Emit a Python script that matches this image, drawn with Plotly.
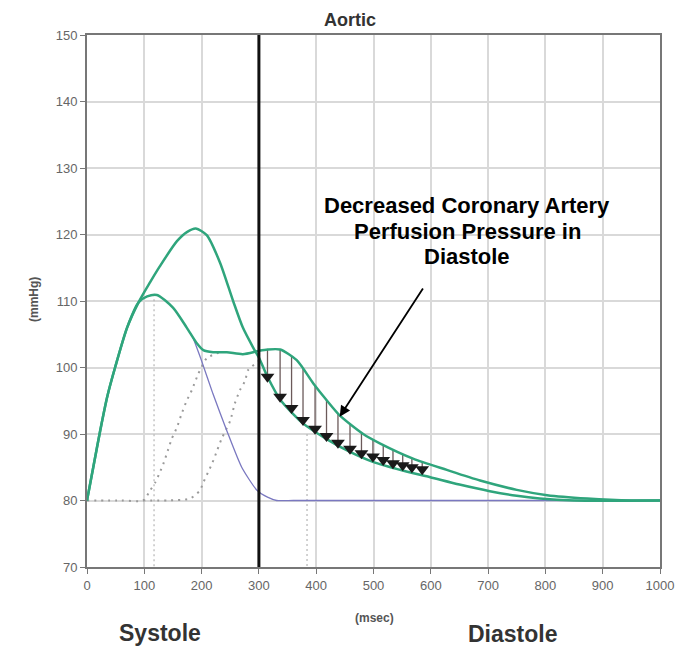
import plotly.graph_objects as go

# upper systolic peak, then the depressed diastolic curve
curve_a_x = [0, 12, 23, 35, 49, 70, 90, 110, 127, 157, 175, 190, 209, 232, 255, 272, 290, 300,
             315, 337, 377, 419, 459, 499, 551, 599, 650, 703, 750, 790, 850, 1000]
curve_a_y = [80, 85.5, 90.5, 95.5, 100, 106, 109.8, 112.8, 115.2, 119, 120.4, 120.9, 119.9, 115.8, 110, 106, 103, 101.5,
             98.6, 95.2, 91.6, 89.2, 87.3, 85.8, 84.5, 83.5, 82.4, 81.4, 80.7, 80.3, 80, 80]

# normal curve with lower systolic peak and diastolic hump
curve_b_x = [0, 12, 23, 35, 49, 70, 90, 105, 122, 150, 174, 192, 203, 220, 244, 272, 300,
             315, 337, 366, 395, 419, 441, 482, 511, 569, 628, 686, 750, 803, 873, 950, 1000]
curve_b_y = [80, 85.5, 90.5, 95.5, 100, 106, 109.8, 110.7, 110.9, 109, 106, 103.6, 102.6, 102.3, 102.3, 102, 102.5,
             102.7, 102.7, 101.1, 97.6, 95, 92.8, 90, 88.6, 86.3, 84.6, 83.0, 81.6, 80.8, 80.3, 80, 80]

# forward wave (thin blue)
forward_x = [185, 200, 220, 244, 270, 297, 315, 331, 360, 500, 700, 1000]
forward_y = [104.5, 101, 96, 90.5, 85, 81.5, 80.5, 80, 80, 80, 80, 80]

# reflected waves (dotted)
reflect1_x = [0, 60, 98, 110, 119, 127, 134, 141, 148, 157, 165, 174, 183, 194, 209, 232]
reflect1_y = [80, 80, 80, 81.5, 82.7, 84.2, 85.7, 87.5, 89.3, 91, 93, 95, 96.6, 99, 101.4, 102.3]
reflect2_x = [98, 140, 180, 197, 203, 211, 219, 227, 235, 250, 258, 267, 276, 281, 300]
reflect2_y = [80, 80, 80.3, 81.5, 82.7, 84.2, 85.7, 87.5, 89.3, 92, 94.6, 96.6, 98, 99.6, 101]

# pressure drop markers
drop_x = [315, 337, 357, 377, 398, 418, 438, 459, 479, 499, 517, 534, 551, 567, 585]
drop_top = [102.7, 102.7, 101.7, 99.8, 97.3, 95.1, 93.1, 91.4, 90.2, 89.2, 88.4, 87.7, 87.0, 86.4, 85.8]
drop_bottom = [98.6, 95.6, 93.9, 92.1, 90.8, 89.7, 88.7, 87.8, 87.1, 86.6, 86.1, 85.6, 85.3, 85.0, 84.7]

note_lines = ["Decreased Coronary Artery", "Perfusion Pressure in", "Diastole"]

GREEN = "#2fa57c"
W, H = 687, 640          # page adds 8px body margin
L, R, T, B = 79, 35, 27, 81
PLOT_W, PLOT_H = W - L - R, H - T - B


def page_to_paper(px, py):
    # reference pixel position -> paper coords
    return (px - 8 - L) / PLOT_W, (H - B - (py - 8)) / PLOT_H


fig = go.Figure()

# white box behind the note text
fig.add_shape(type="rect", x0=372, x1=953, y0=114, y1=126.5, xref="x", yref="y",
              fillcolor="white", line_width=0, layer="below")

# vertical dotted guides
fig.add_trace(go.Scatter(x=[117, 117, None, 384, 384], y=[111, 70, None, 90, 70], mode="lines",
                         line=dict(color="#b5b5b5", width=1.2, dash="2px,3px"), hoverinfo="skip"))
fig.add_trace(go.Scatter(x=reflect1_x, y=reflect1_y, mode="lines", line_shape="spline",
                         line=dict(color="#9a9a9a", width=2, dash="2px,5px", smoothing=0.6)))
fig.add_trace(go.Scatter(x=reflect2_x, y=reflect2_y, mode="lines", line_shape="spline",
                         line=dict(color="#9a9a9a", width=2, dash="2px,5px", smoothing=0.6)))
fig.add_trace(go.Scatter(x=forward_x, y=forward_y, mode="lines", line_shape="spline",
                         line=dict(color="#7a78c0", width=1.3, smoothing=0.6)))

stem_x, stem_y = [], []
for x, top, bottom in zip(drop_x, drop_top, drop_bottom):
    stem_x += [x, x, None]
    stem_y += [top, bottom, None]
fig.add_trace(go.Scatter(x=stem_x, y=stem_y, mode="lines", line=dict(color="#6b5a5a", width=1.3)))

fig.add_trace(go.Scatter(x=curve_a_x, y=curve_a_y, mode="lines", line_shape="spline",
                         line=dict(color=GREEN, width=2.5, smoothing=0.7)))
fig.add_trace(go.Scatter(x=curve_b_x, y=curve_b_y, mode="lines", line_shape="spline",
                         line=dict(color=GREEN, width=2.5, smoothing=0.7)))
fig.add_trace(go.Scatter(x=drop_x, y=drop_bottom, mode="markers",
                         marker=dict(symbol="triangle-down", size=12, color="#1a1a1a")))

fig.add_vline(x=300, line=dict(color="#111111", width=3))

for line, py in zip(note_lines, [205, 231, 256]):
    nx, ny = page_to_paper(467, py)
    fig.add_annotation(x=nx, y=ny, xref="paper", yref="paper", text=line, showarrow=False,
                       xanchor="center", yanchor="middle",
                       font=dict(family="Liberation Sans", size=22, color="#000000", weight="bold"))

fig.add_annotation(x=441, y=92.6, ax=588, ay=112.1, xref="x", yref="y", axref="x", ayref="y",
                   showarrow=True, arrowhead=2, arrowsize=1.2, arrowwidth=1.8, arrowcolor="#000000",
                   text="")

label_font = dict(family="Liberation Sans", color="#333333", weight="bold")
labels = [
    ("Systole", 160, 633, 23, "#333333", 0),
    ("Diastole", 512, 634, 23, "#333333", 0),
    ("(msec)", 374, 618, 12, "#555555", 0),
    ("(mmHg)", 34, 300, 12, "#555555", -90),
]
for text, px, py, size, color, angle in labels:
    nx, ny = page_to_paper(px, py)
    fig.add_annotation(x=nx, y=ny, xref="paper", yref="paper", text=text, showarrow=False,
                       xanchor="center", yanchor="middle", textangle=angle,
                       font=dict(label_font, size=size, color=color))

# title pinned to the top edge of the figure so it is not clipped
tx, ty = page_to_paper(350, 8)
fig.add_annotation(x=tx, y=ty, xref="paper", yref="paper", text="Aortic", showarrow=False,
                   xanchor="center", yanchor="top", font=dict(label_font, size=18))

axis_common = dict(showline=True, linecolor="#777777", linewidth=2, mirror=True,
                   showgrid=True, gridcolor="#d9d9d9", gridwidth=1.5, zeroline=False,
                   ticks="outside", ticklen=5, tickcolor="#777777",
                   tickfont=dict(family="Liberation Sans", size=13, color="#666666"))
fig.update_xaxes(range=[0, 1000], dtick=100, **axis_common)
fig.update_yaxes(range=[70, 150], dtick=10, **axis_common)

fig.update_layout(width=W, height=H, margin=dict(l=L, r=R, t=T, b=B),
                  paper_bgcolor="white", plot_bgcolor="white", showlegend=False)

fig.write_html("out.html")
